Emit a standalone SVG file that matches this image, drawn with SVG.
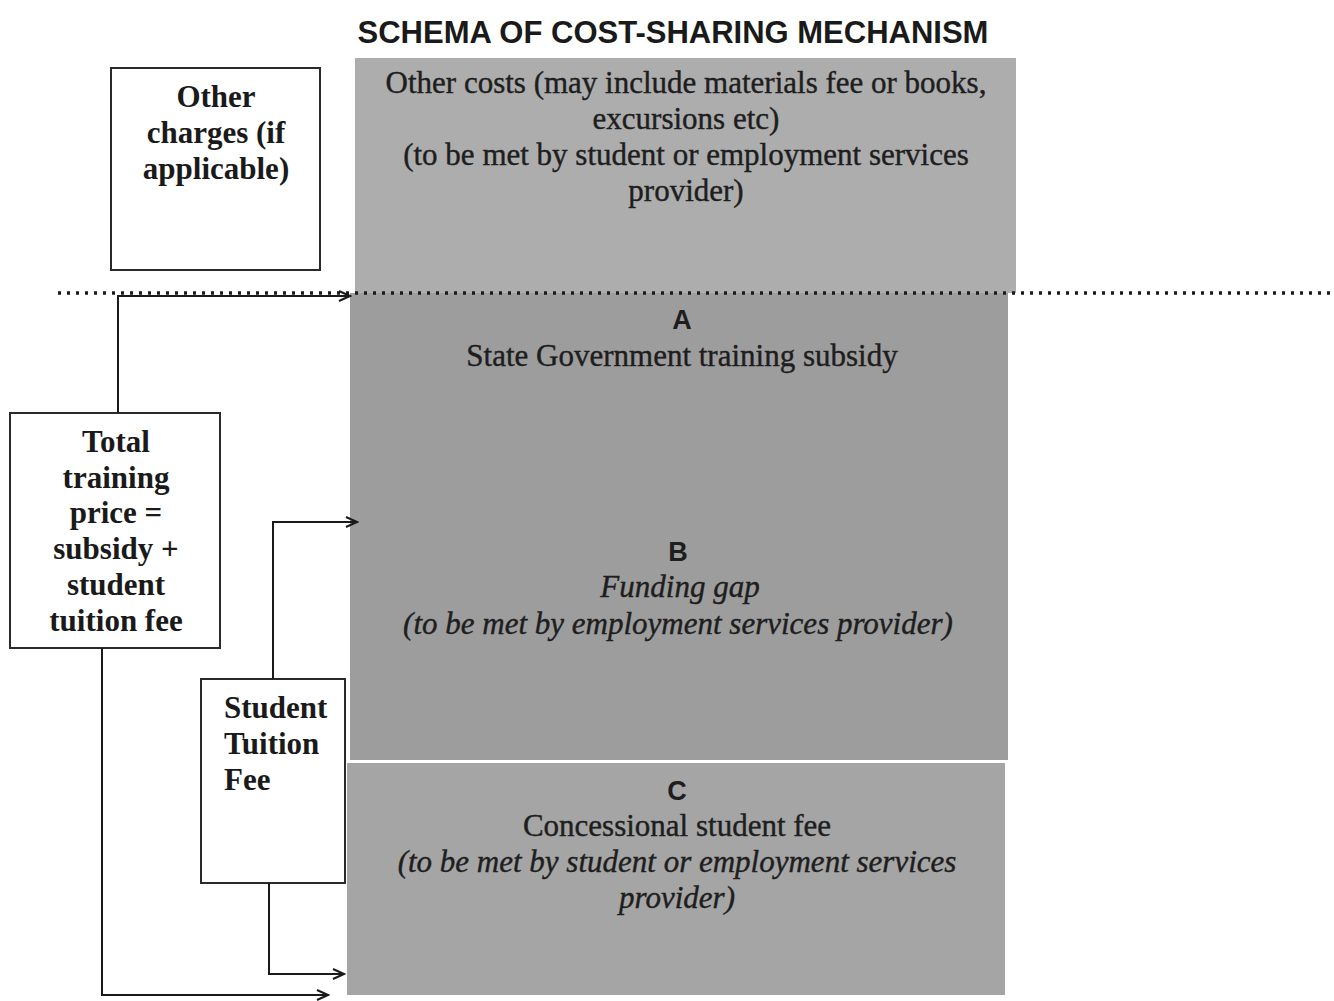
<svg xmlns="http://www.w3.org/2000/svg" width="1334" height="1001" viewBox="0 0 1334 1001">
<defs>
<style>
.box{fill:#fff;stroke:#2a2a2a;stroke-width:2}
.lbl{font-family:"Liberation Serif","Times New Roman",serif;font-weight:bold;font-size:31px;fill:#1a1a1a}
.body{font-family:"Liberation Serif","Times New Roman",serif;font-size:31px;fill:#1e1e1e;text-anchor:middle;stroke:#1e1e1e;stroke-width:0.4}
.it{font-style:italic}
.letter{font-family:"Liberation Sans",Arial,sans-serif;font-weight:bold;font-size:27px;fill:#1e1e1e;text-anchor:middle}
.title{font-family:"Liberation Sans",Arial,sans-serif;font-weight:bold;font-size:31px;fill:#1a1a1a;text-anchor:middle}
.conn{fill:none;stroke:#1a1a1a;stroke-width:2}
</style>
<marker id="arr" markerWidth="14" markerHeight="12" refX="12" refY="6" orient="auto" markerUnits="userSpaceOnUse">
<path d="M1,1 L12,6 L1,11" fill="none" stroke="#1a1a1a" stroke-width="2"/>
</marker>
</defs>
<rect width="1334" height="1001" fill="#fff"/>
<text class="title" x="673" y="43">SCHEMA OF COST-SHARING MECHANISM</text>

<g id="other-costs">
<rect x="355" y="58" width="661" height="235" fill="#adadad"/>
<text class="body" x="686" y="93">Other costs (may include materials fee or books,</text>
<text class="body" x="686" y="129">excursions etc)</text>
<text class="body" x="686" y="165">(to be met by student or employment services</text>
<text class="body" x="686" y="201">provider)</text>
</g>

<g id="subsidy-gap">
<rect x="350" y="293" width="658" height="467" fill="#9d9d9d"/>
<text class="letter" x="682" y="329">A</text>
<text class="body" x="682" y="366">State Government training subsidy</text>
<text class="letter" x="678" y="561">B</text>
<text class="body it" x="680" y="597">Funding gap</text>
<text class="body it" x="678" y="634">(to be met by employment services provider)</text>
</g>

<g id="concessional">
<rect x="347" y="763" width="658" height="232" fill="#a5a5a5"/>
<text class="letter" x="677" y="800">C</text>
<text class="body" x="677" y="836">Concessional student fee</text>
<text class="body it" x="677" y="872">(to be met by student or employment services</text>
<text class="body it" x="677" y="908">provider)</text>
</g>

<line x1="58" y1="293" x2="1334" y2="293" stroke="#1a1a1a" stroke-width="3.5" stroke-dasharray="3 6"/>

<g id="other-charges">
<rect class="box" x="111" y="68" width="209" height="202"/>
<text class="lbl" x="216" y="107" text-anchor="middle">Other</text>
<text class="lbl" x="216" y="143" text-anchor="middle">charges (if</text>
<text class="lbl" x="216" y="179" text-anchor="middle">applicable)</text>
</g>

<g id="total-price">
<rect class="box" x="10" y="413" width="210" height="235"/>
<text class="lbl" x="116" y="452" text-anchor="middle">Total</text>
<text class="lbl" x="116" y="488" text-anchor="middle">training</text>
<text class="lbl" x="116" y="523" text-anchor="middle">price =</text>
<text class="lbl" x="116" y="559" text-anchor="middle">subsidy +</text>
<text class="lbl" x="116" y="595" text-anchor="middle">student</text>
<text class="lbl" x="116" y="631" text-anchor="middle">tuition fee</text>
</g>

<g id="student-fee">
<rect class="box" x="201" y="679" width="144" height="204"/>
<text class="lbl" x="224" y="718">Student</text>
<text class="lbl" x="224" y="754">Tuition</text>
<text class="lbl" x="224" y="790">Fee</text>
</g>

<g id="connectors">
<path class="conn" d="M118,413 V296 H350" marker-end="url(#arr)"/>
<path class="conn" d="M273,679 V522 H357" marker-end="url(#arr)"/>
<path class="conn" d="M269,883 V974 H344" marker-end="url(#arr)"/>
<path class="conn" d="M102,648 V995 H328" marker-end="url(#arr)"/>
</g>
</svg>
